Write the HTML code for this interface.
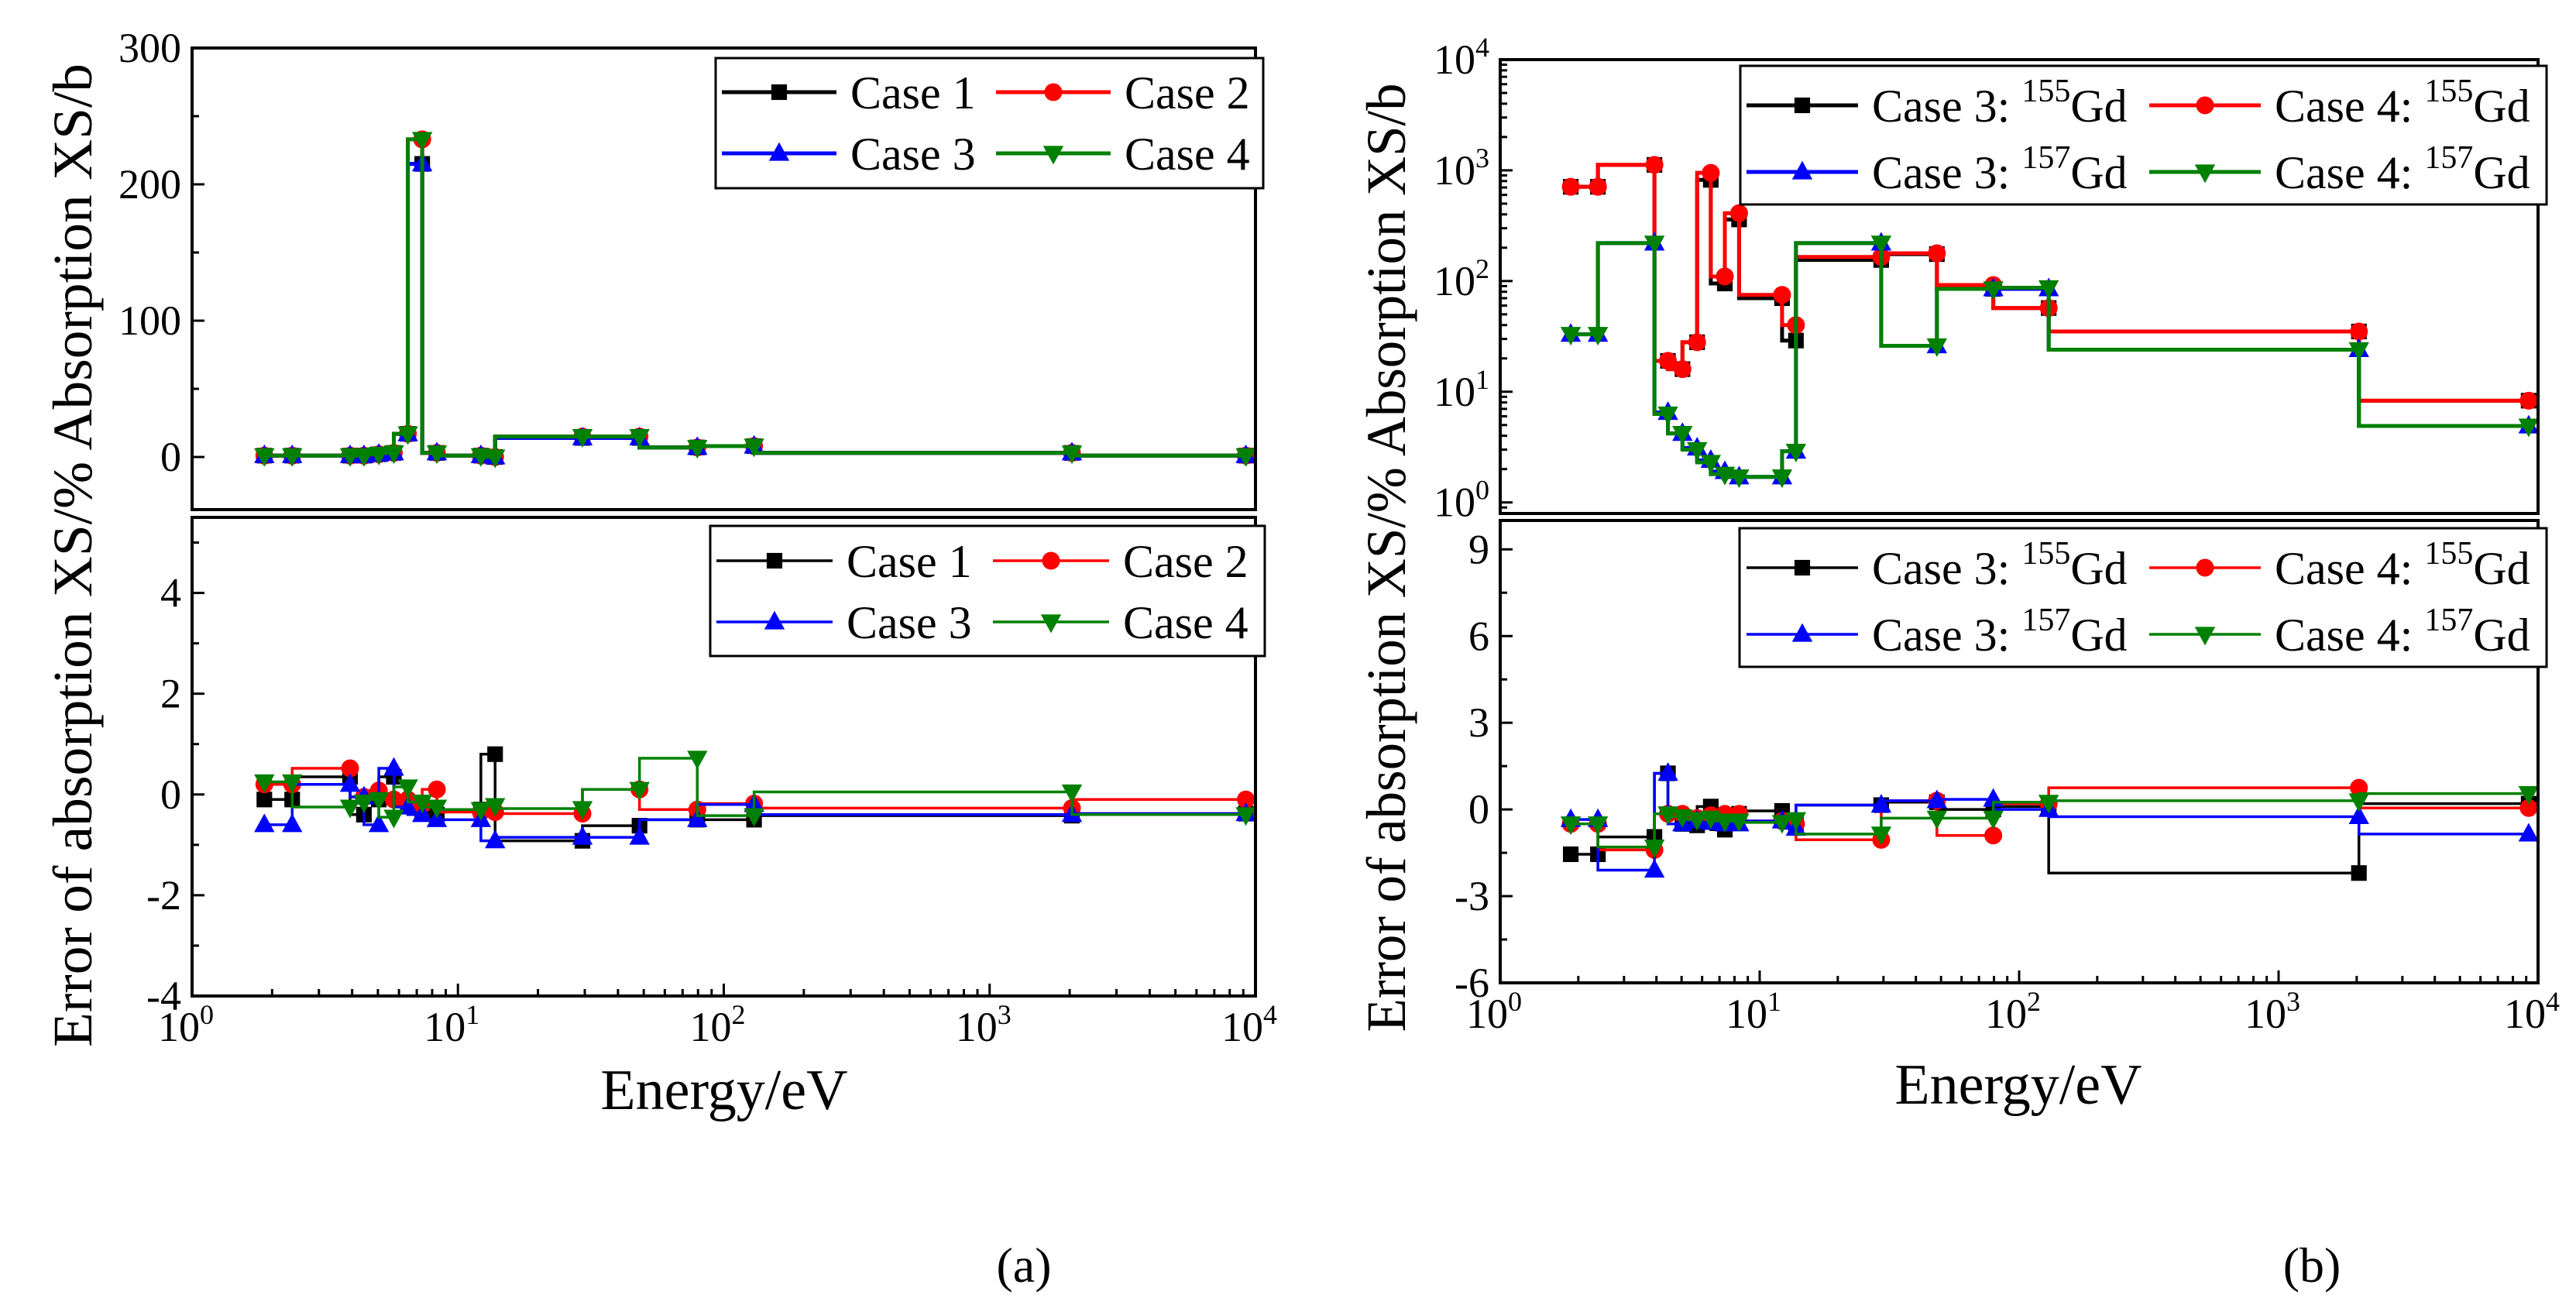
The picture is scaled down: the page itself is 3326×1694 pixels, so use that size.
<!DOCTYPE html>
<html><head><meta charset="utf-8"><style>
html,body{margin:0;padding:0;background:#fff;}
svg{display:block;font-family:"Liberation Serif",serif;}
</style></head><body>
<svg id="fig" width="3326" height="1694" viewBox="0 0 3326 1694" xmlns="http://www.w3.org/2000/svg"></svg>
<script>
const energies=[1.87,2.38,3.93,4.43,5.04,5.74,6.48,7.34,8.33,12.2,13.8,29.4,48.2,79.5,130,2040,9200];
// panel a top (XS/b)
const aTopCase1=[1,1,1,1,2,3,17,215,3,1,0,14,14,7,8,3,1];
const aTopCase2=[1,1,1,1,2,3,17,233,3,1,0,15,15,7,8,3,1];
const aTopCase3=[1,1,1,1,2,3,17,215,3,1,0,14,14,7,8,3,1];
const aTopCase4=[1,1,1,1,2,3,17,233,3,1,0,15,15,7,8,3,1];
// panel a bottom (error %)
const aErrCase1=[-0.1,-0.1,0.35,-0.4,-0.1,0.35,-0.2,-0.35,-0.4,-0.3,0.8,-0.92,-0.62,-0.5,-0.5,-0.42,-0.38];
const aErrCase2=[0.2,0.2,0.52,-0.05,0.08,-0.1,-0.1,-0.2,0.1,-0.35,-0.35,-0.38,0.1,-0.3,-0.18,-0.27,-0.1];
const aErrCase3=[-0.6,-0.6,0.2,-0.05,-0.6,0.52,-0.25,-0.4,-0.5,-0.5,-0.92,-0.85,-0.85,-0.5,-0.2,-0.4,-0.38];
const aErrCase4=[0.25,0.25,-0.25,-0.15,-0.1,-0.45,0.15,-0.15,-0.25,-0.3,-0.22,-0.28,0.1,0.72,-0.42,0.05,-0.4];
// panel b top (XS/b, log)
const bTopC3Gd155=[710,710,1120,19,16,28,820,95,360,70,29,155,175,85,57,35,8.3];
const bTopC4Gd155=[710,710,1120,19,16,28,950,110,410,75,40,165,178,92,57,35,8.3];
const bTopC3Gd157=[33,33,220,6.5,4.2,3.1,2.4,1.9,1.7,1.7,2.9,220,26,85,85,24,4.9];
const bTopC4Gd157=[33,33,220,6.3,4.2,3.0,2.3,1.8,1.7,1.7,2.9,220,26,85,87,24,4.9];
// panel b bottom (error %)
const bErrC3Gd155=[-1.55,-1.55,-0.95,1.25,-0.5,-0.55,0.1,-0.7,-0.15,-0.05,-0.5,0.15,0.25,0.0,0.1,-2.2,0.2];
const bErrC4Gd155=[-0.5,-0.5,-1.4,-0.15,-0.15,-0.3,-0.2,-0.15,-0.15,-0.4,-0.5,-1.05,0.3,-0.9,0.2,0.75,0.05];
const bErrC3Gd157=[-0.35,-0.35,-2.1,1.25,-0.5,-0.4,-0.45,-0.5,-0.5,-0.4,-0.65,0.15,0.3,0.35,0.0,-0.25,-0.85];
const bErrC4Gd157=[-0.5,-0.5,-1.3,-0.15,-0.25,-0.35,-0.3,-0.4,-0.4,-0.45,-0.35,-0.85,-0.3,-0.3,0.25,0.3,0.55];
const xDecades=[0,1,2,3,4];
const aTopTicks=[0,100,200,300];
const aErrTicks=[-4,-2,0,2,4];
const bTopDecades=[0,1,2,3,4];
const bErrTicks=[-6,-3,0,3,6,9];

const NS="http://www.w3.org/2000/svg";
const svg=document.getElementById('fig');
function mk(tag,attrs,parent){const e=document.createElementNS(NS,tag);for(const k in attrs)e.setAttribute(k,attrs[k]);(parent||svg).appendChild(e);return e;}
const COLORS=['#000000','#ff0000','#0000ff','#008000'];
const SHAPES=['square','circle','up','down'];
let clipId=0;

function marker(g,shape,x,y,c,s){
  let el;
  if(shape==='square') el=mk('rect',{x:x-s*0.42,y:y-s*0.42,width:s*0.84,height:s*0.84,fill:c},g);
  else if(shape==='circle') el=mk('circle',{cx:x,cy:y,r:s*0.48,fill:c},g);
  else if(shape==='up') el=mk('polygon',{points:`${x},${y-s*0.6} ${x-s*0.55},${y+s*0.4} ${x+s*0.55},${y+s*0.4}`,fill:c},g);
  else el=mk('polygon',{points:`${x},${y+s*0.6} ${x-s*0.55},${y-s*0.4} ${x+s*0.55},${y-s*0.4}`,fill:c},g);
  return el;
}

function panel(o){
  const {x0,x1,y0,y1}=o;
  const X=v=>x0+(Math.log10(v)-0)/4*(x1-x0);
  const Y=o.log?(v=>y1-(Math.log10(v)-o.ymin)/(o.ymax-o.ymin)*(y1-y0)):(v=>y1-(v-o.ymin)/(o.ymax-o.ymin)*(y1-y0));
  const g=mk('g',{});
  
  
  const cid='clip'+(clipId++);
  const cp=mk('clipPath',{id:cid},g);mk('rect',{x:x0,y:y0,width:x1-x0,height:y1-y0},cp);
  const ya=mk('g',{},g);
  
  
  if(o.log){
    for(let d=Math.floor(o.ymin);d<o.ymax;d++){
      for(let m=1;m<10;m++){const v=m*Math.pow(10,d);const lv=Math.log10(v);if(lv<o.ymin||lv>o.ymax)continue;
        const yy=Y(v);mk('line',{x1:x0,x2:x0+(m===1?16:9),y1:yy,y2:yy,stroke:'#000','stroke-width':3},ya);}
    }
    o.decades.forEach(d=>{const yy=Y(Math.pow(10,d));
      const t=mk('text',{x:x0-14,y:yy+18,'text-anchor':'end','font-size':54},ya);
      
      
      t.textContent='10';const s=mk('tspan',{dy:-22,'font-size':36},t);s.textContent=String(d);});
  } else {
    const step=o.ticks[1]-o.ticks[0];
    for(let v=o.ticks[0];v<=o.ymax+1e-9;v+=step/2){if(v<o.ymin)continue;const yy=Y(v);const major=Math.abs(((v-o.ticks[0])/step)%1)<1e-6;
      mk('line',{x1:x0,x2:x0+(major?16:9),y1:yy,y2:yy,stroke:'#000','stroke-width':3},ya);}
    o.ticks.forEach(v=>{const yy=Y(v);const t=mk('text',{x:x0-14,y:yy+18,'text-anchor':'end','font-size':54},ya);
      
      
      t.textContent=String(v);});
  }
  if(o.xlabels){
    const xa=mk('g',{},g);
    
    
    for(let d=0;d<4;d++)for(let m=1;m<10;m++){const xx=X(m*Math.pow(10,d));
      mk('line',{x1:xx,x2:xx,y1:y1,y2:y1-(m===1?16:9),stroke:'#000','stroke-width':3},xa);}
    xDecades.forEach(d=>{const xx=X(Math.pow(10,d));
      const t=mk('text',{x:xx-8,y:y1+58,'text-anchor':'middle','font-size':54},xa);
      
      
      t.textContent='10';const s=mk('tspan',{dy:-22,'font-size':36},t);s.textContent=String(d);});
  }
  const sg=mk('g',{'clip-path':`url(#${cid})`},g);
  o.series.forEach((vals,si)=>{
    const c=COLORS[si];
    let d=`M${X(energies[0])},${Y(vals[0])}`;
    for(let i=1;i<energies.length;i++){d+=` V${Y(vals[i])} H${X(energies[i])}`;}
    const p=mk('path',{d:d,fill:'none',stroke:c,'stroke-width':o.lw},sg);
    
    
    energies.forEach((e,i)=>{const m=marker(sg,SHAPES[si],X(e),Y(vals[i]),c,24);
      
      });
  });
  const fr=mk('rect',{x:x0,y:y0,width:x1-x0,height:y1-y0,fill:'none',stroke:'#000','stroke-width':4},g);
  
  
  const L=o.legend;
  const lg=mk('g',{},g);
  
  
  mk('rect',{x:L.bx,y:L.by,width:L.bw,height:L.bh,fill:'#fff',stroke:'#000','stroke-width':3},lg);
  L.labels.forEach((lab,i)=>{
    const col=i%2,row=Math.floor(i/2);
    const lx=L.lx[col],ty=L.ry[row];
    const e=mk('g',{},lg);
    
    
    mk('line',{x1:lx,x2:lx+L.ll,y1:ty,y2:ty,stroke:COLORS[i],'stroke-width':o.lw},e);
    marker(e,SHAPES[i],lx+L.ll/2,ty,COLORS[i],24);
    const t=mk('text',{x:lx+L.ll+18,y:ty+21,'font-size':60},e);
    if(typeof lab==='object'){t.appendChild(document.createTextNode(lab.pre));const s=mk('tspan',{dy:-26,'font-size':42},t);s.textContent=lab.sup;const r=mk('tspan',{dy:26},t);r.textContent=lab.post;}
    else t.textContent=lab;
  });
}

panel({name:'panel-a-top',x0:248,x1:1621,y0:62,y1:658,ymin:-38.6,ymax:300,ticks:aTopTicks,lw:5,
  series:[aTopCase1,aTopCase2,aTopCase3,aTopCase4],
  legend:{bx:924,by:75,bw:707,bh:168,lx:[932,1286],ry:[119,198],ll:148,labels:['Case 1','Case 2','Case 3','Case 4']}});
panel({name:'panel-a-bottom',x0:248,x1:1621,y0:668,y1:1286,ymin:-4,ymax:5.5,ticks:aErrTicks,lw:3.5,xlabels:true,
  series:[aErrCase1,aErrCase2,aErrCase3,aErrCase4],
  legend:{bx:917,by:679,bw:716,bh:168,lx:[925,1282],ry:[724,803],ll:150,labels:['Case 1','Case 2','Case 3','Case 4']}});
const gdLabels=[{pre:'Case 3: ',sup:'155',post:'Gd'},{pre:'Case 4: ',sup:'155',post:'Gd'},{pre:'Case 3: ',sup:'157',post:'Gd'},{pre:'Case 4: ',sup:'157',post:'Gd'}];
panel({name:'panel-b-top',x0:1937,x1:3277,y0:77,y1:663,log:true,ymin:-0.1,ymax:4,decades:bTopDecades,lw:5,
  series:[bTopC3Gd155,bTopC4Gd155,bTopC3Gd157,bTopC4Gd157],
  legend:{bx:2247,by:85,bw:1041,bh:179,lx:[2255,2775],ry:[136,222],ll:144,labels:gdLabels}});
panel({name:'panel-b-bottom',x0:1937,x1:3277,y0:672,y1:1269,ymin:-6,ymax:10,ticks:bErrTicks,lw:3.5,xlabels:true,
  series:[bErrC3Gd155,bErrC4Gd155,bErrC3Gd157,bErrC4Gd157],
  legend:{bx:2246,by:682,bw:1042,bh:179,lx:[2255,2775],ry:[733,819],ll:144,labels:gdLabels}});

function txt(attrs,s,name){const t=mk('text',attrs);t.textContent=s;
  
  return t;}
txt({x:935,y:1432,'text-anchor':'middle','font-size':74},'Energy/eV','x-axis-title-a');
txt({x:2606,y:1425,'text-anchor':'middle','font-size':74},'Energy/eV','x-axis-title-b');
txt({x:0,y:0,'text-anchor':'middle','font-size':72,textLength:1270,lengthAdjust:'spacingAndGlyphs',transform:'translate(118,717) rotate(-90)'},'Error of absorption XS/% Absorption XS/b','y-axis-title-a');
txt({x:0,y:0,'text-anchor':'middle','font-size':72,textLength:1225,lengthAdjust:'spacingAndGlyphs',transform:'translate(1814,720) rotate(-90)'},'Error of absorption XS/% Absorption XS/b','y-axis-title-b');
txt({x:1322,y:1655,'text-anchor':'middle','font-size':64},'(a)','caption-a');
txt({x:2985,y:1655,'text-anchor':'middle','font-size':64},'(b)','caption-b');
</script>
</body></html>
